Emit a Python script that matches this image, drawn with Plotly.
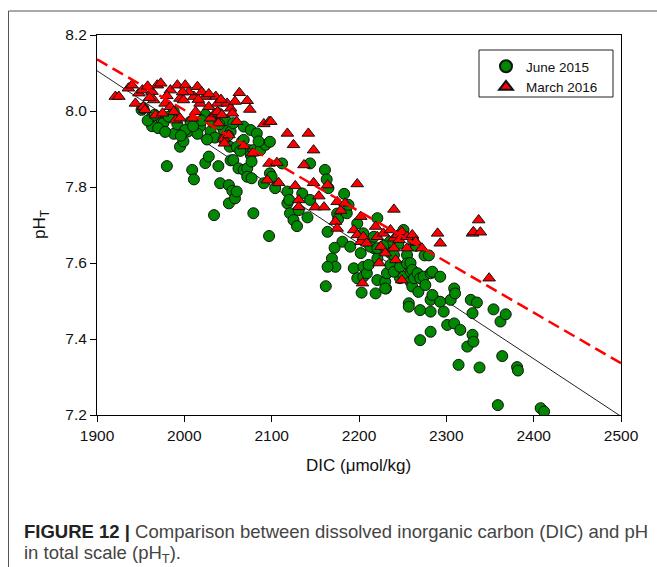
import plotly.graph_objects as go

# ---- data ----
june_dic = [
    1951, 1953, 1963, 1963, 1974, 1976, 1980, 1988, 1988, 1995, 1999, 2004, 2007, 2009, 2011,
    2013, 2018, 2024, 2024, 2028, 2030, 2032, 2034, 2039, 2039, 2041, 2045, 2047, 2051, 2051,
    2053, 2053, 2052, 2055, 2056, 2056, 2058, 2060, 2062, 2066, 2068, 2068, 2068, 2072, 2072,
    2074, 2076, 2076, 2077, 2079, 2079, 2083, 2087, 2091, 2093, 2098, 2098, 2100, 2104, 2077,
    2112, 1958, 1970, 1982, 1992, 2001, 2015, 2020, 2035, 2045, 2060, 2085,
    2118, 2118, 2120, 2121, 2125, 2129, 2131, 2135, 2141, 2144, 2144, 2161, 2163, 2165, 2164,
    2169, 2173, 2164, 2175, 2176, 2181, 2183, 2186, 2188, 2190, 2194, 2198, 2097, 2162, 2198,
    2203, 2231, 2247, 2217, 2172,
    2202, 2205, 2205, 2205, 2209, 2211, 2213, 2217, 2219, 2221, 2221, 2221, 2221, 2230, 2230,
    2232, 2236, 2236, 2240, 2240, 2247, 2251, 2251, 2255, 2255, 2257, 2257, 2259, 2259, 2259,
    2261, 2261, 2263, 2267, 2268, 2270, 2270, 2270, 2274, 2276, 2282, 2282, 2282, 2282, 2284,
    2284, 2293, 2293, 2297, 2301, 2305, 2309, 2309, 2310, 2314, 2316, 2324, 2328, 2330, 2330,
    2331, 2335, 2338, 2354, 2359, 2362, 2364, 2368, 2381, 2382, 2408, 2412,
    2245, 2265, 2275, 2235, 2262, 2280, 2228,
    1966, 1978, 1996, 2010, 2026, 2040, 2050, 2064,
]
june_ph = [
    8.003, 8.007, 7.960, 7.985, 7.976, 7.968, 7.855, 7.940, 7.998, 7.906, 7.920, 7.946, 7.972, 7.845, 7.820,
    7.963, 7.959, 7.990, 7.863, 7.880, 7.946, 7.972, 7.726, 7.994, 7.855, 7.810, 7.950, 7.976, 7.805, 7.757,
    7.870, 7.946, 7.906, 7.790, 7.968, 7.871, 7.770, 7.788, 7.849, 7.920, 7.924, 7.959, 7.845, 7.849, 7.827,
    7.897, 7.884, 7.950, 7.867, 7.731, 7.897, 7.941, 7.897, 7.810, 7.911, 7.919, 7.836, 7.827, 7.797, 7.823,
    7.862, 7.975, 7.955, 7.985, 7.965, 7.950, 7.940, 7.975, 7.930, 7.925, 7.905, 7.920,
    7.788, 7.757, 7.766, 7.731, 7.713, 7.697, 7.739, 7.783, 7.720, 7.766, 7.862, 7.845, 7.820, 7.797, 7.682,
    7.612, 7.590, 7.590, 7.730, 7.715, 7.656, 7.782, 7.731, 7.753, 7.643, 7.586, 7.704, 7.671, 7.539, 7.560,
    7.522, 7.533, 7.560, 7.639, 7.640,
    7.626, 7.678, 7.564, 7.590, 7.573, 7.595, 7.643, 7.669, 7.520, 7.612, 7.639, 7.718, 7.555, 7.551, 7.533,
    7.573, 7.595, 7.626, 7.577, 7.621, 7.590, 7.687, 7.564, 7.621, 7.599, 7.494, 7.485, 7.577, 7.600, 7.551,
    7.538, 7.582, 7.560, 7.573, 7.524, 7.560, 7.476, 7.397, 7.564, 7.542, 7.573, 7.503, 7.472, 7.419, 7.516,
    7.577, 7.564, 7.498, 7.472, 7.437, 7.503, 7.533, 7.441, 7.520, 7.332, 7.424, 7.380, 7.503, 7.468, 7.411,
    7.393, 7.496, 7.325, 7.478, 7.226, 7.446, 7.355, 7.465, 7.326, 7.317, 7.218, 7.209,
    7.650, 7.645, 7.620, 7.655, 7.660, 7.620, 7.645,
    7.990, 7.945, 7.935, 7.960, 7.925, 7.965, 7.935, 7.895,
]

march_dic = [
    1921, 1925, 1936, 1940, 1944, 1948, 1952, 1953, 1955, 1963, 1965, 1967, 1969, 1973, 1975,
    1978, 1984, 1984, 1988, 1990, 1992, 1995, 1995, 1999, 2001, 2009, 2011, 2013, 2015, 2018,
    2024, 2028, 2030, 2035, 2036, 2038, 2038, 2039, 2043, 2045, 2046, 2049, 2051, 2053, 2055,
    2060, 2063, 2068, 2072, 2075, 2078, 2091, 2097, 2099, 2097, 2095, 2106, 2108, 2118, 2125,
    2127, 2131, 2131, 2137, 2142, 2148, 2148, 2150, 2154, 2160, 2164, 2173, 2175, 2175, 2179,
    2184, 2194, 2198, 2198, 2202, 2202, 2204, 2205, 2209, 2219, 2221, 2223, 2225, 2228, 2230,
    2236, 2240, 2240, 2240, 2242, 2244, 2246, 2249, 2249, 2255, 2255, 2261, 2265, 2272, 2290,
    2293, 2330, 2331, 2337, 2339, 2349,
    1958, 1980, 2005, 2020, 2028, 2042, 2058, 1960, 1998, 2016,
]
march_ph = [
    8.038, 8.038, 8.060, 8.068, 8.020, 8.047, 8.055, 8.011, 8.003, 8.051, 8.029, 7.989, 8.068, 8.073, 7.994,
    8.020, 8.055, 8.011, 7.998, 7.976, 8.068, 8.033, 7.981, 8.029, 8.068, 7.981, 8.038, 7.998, 8.064, 8.020,
    8.038, 8.011, 7.981, 7.994, 8.038, 7.998, 8.020, 7.968, 7.990, 7.928, 7.915, 8.020, 7.937, 8.007, 7.994,
    7.972, 8.048, 7.908, 8.027, 8.004, 7.889, 7.966, 7.972, 7.972, 7.862, 7.818, 7.864, 7.811, 7.941, 7.911,
    7.803, 7.766, 7.748, 7.858, 7.941, 7.897, 7.811, 7.747, 7.776, 7.747, 7.805, 7.709, 7.761, 7.691, 7.738,
    7.757, 7.687, 7.808, 7.674, 7.722, 7.656, 7.547, 7.669, 7.652, 7.696, 7.669, 7.600, 7.643, 7.678, 7.626,
    7.687, 7.741, 7.665, 7.639, 7.608, 7.674, 7.661, 7.682, 7.555, 7.669, 7.639, 7.674, 7.656, 7.639, 7.678,
    7.652, 7.678, 7.682, 7.713, 7.681, 7.560,
    8.065, 8.040, 8.050, 8.050, 8.045, 8.030, 8.025, 8.035, 8.050, 8.030,
]

# linear fits: pH = a + b * (DIC - 1900)
june_fit = {"a": 8.106, "b": -0.001516}
march_fit = {"a": 8.136, "b": -0.001333}
fit_x = [1900, 2500]

x_ticks = [1900, 2000, 2100, 2200, 2300, 2400, 2500]
y_ticks = [7.2, 7.4, 7.6, 7.8, 8.0, 8.2]

FONT = "Liberation Sans, Arial, sans-serif"

fig = go.Figure()

fig.add_trace(go.Scatter(
    x=fit_x, y=[june_fit["a"] + june_fit["b"] * (v - 1900) for v in fit_x],
    mode="lines", line=dict(color="#222222", width=1), showlegend=False, hoverinfo="skip"))

fig.add_trace(go.Scatter(
    x=june_dic, y=june_ph, mode="markers", name="June 2015",
    marker=dict(symbol="circle", size=11, color="#008800",
                line=dict(color="#111111", width=1))))

fig.add_trace(go.Scatter(
    x=march_dic, y=march_ph, mode="markers", name="March 2016",
    marker=dict(symbol="triangle-up", size=11, color="#ff0000",
                line=dict(color="#111111", width=1))))

fig.add_trace(go.Scatter(
    x=fit_x, y=[march_fit["a"] + march_fit["b"] * (v - 1900) for v in fit_x],
    mode="lines", line=dict(color="#ff0000", width=2.5, dash="12px,6px"),
    showlegend=False, hoverinfo="skip"))

L, R, T, B = 97, 36, 35, 152
W, H = 657, 567
pw, ph = W - L - R, H - T - B

def px(xp):
    return (xp - L) / pw

def py(yp):
    return 1 - (yp - T) / ph

axis_common = dict(
    showline=True, linecolor="#000000", linewidth=1, mirror=True,
    ticks="outside", ticklen=6, tickcolor="#000000", tickwidth=1,
    showgrid=False, zeroline=False,
    tickfont=dict(family=FONT, size=15.5, color="#111111"),
)

fig.update_layout(
    width=W, height=H,
    margin=dict(l=L, r=R, t=T, b=B, pad=0),
    paper_bgcolor="white", plot_bgcolor="white",
    font=dict(family=FONT, color="#111111"),
    xaxis=dict(range=[1900, 2500], tickvals=x_ticks, **axis_common),
    yaxis=dict(range=[7.2, 8.2], tickvals=y_ticks, tickformat=".1f", **axis_common),
    legend=dict(x=px(486), y=py(51), xanchor="left", yanchor="top",
                bgcolor="rgba(0,0,0,0)", borderwidth=0,
                font=dict(family=FONT, size=13.5, color="#111111"),
                tracegroupgap=0, itemsizing="constant"),
    showlegend=True,
    shapes=[
        dict(type="rect", xref="paper", yref="paper",
             x0=px(479), x1=px(613), y0=py(97), y1=py(50),
             line=dict(color="#222222", width=1), fillcolor="rgba(0,0,0,0)"),
        dict(type="rect", xref="paper", yref="paper",
             x0=px(8.5), x1=px(700), y0=py(620), y1=py(11),
             line=dict(color="#555555", width=1), fillcolor="rgba(0,0,0,0)"),
    ],
    annotations=[
        dict(text="DIC (\u03bcmol/kg)", xref="paper", yref="paper",
             x=px(358), y=py(465), xanchor="center", yanchor="middle",
             showarrow=False, font=dict(family=FONT, size=17, color="#111111")),
        dict(text="pH<sub>T</sub>", xref="paper", yref="paper",
             x=px(41), y=py(225), xanchor="center", yanchor="middle", textangle=-90,
             showarrow=False, font=dict(family=FONT, size=17, color="#111111")),
        dict(text="<b>FIGURE 12 |</b> <span style='color:#444444'>Comparison between dissolved inorganic carbon (DIC) and pH</span>",
             xref="paper", yref="paper", x=px(22), y=py(531), xanchor="left", yanchor="middle",
             showarrow=False, font=dict(family=FONT, size=18.5, color="#222222")),
        dict(text="in total scale (pH<sub>T</sub>).",
             xref="paper", yref="paper", x=px(22), y=py(554), xanchor="left", yanchor="middle",
             showarrow=False, font=dict(family=FONT, size=18.5, color="#444444")),
    ],
)

fig.write_html("out.html")
